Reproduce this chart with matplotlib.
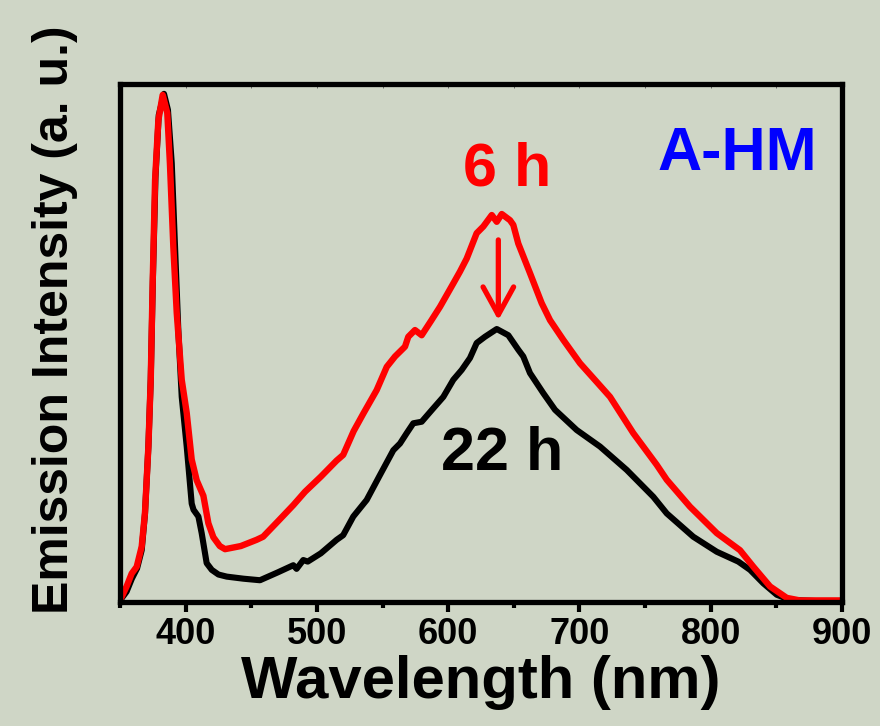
import matplotlib
matplotlib.use('Agg')
import matplotlib.pyplot as plt
import numpy

# Emission spectra (wavelength in nm, intensity in a. u.)
wl_6h = [350, 351.3, 355, 358.9, 362.7, 366.5, 369, 371.6, 373.4, 374.9, 376.7, 379.2, 382.5, 386, 388,
         390.6, 393.2, 397, 400.8, 404.6, 408.4, 413.5, 417.3, 421.1, 426, 430, 442, 454, 459, 470,
         482, 491, 503, 515, 520, 528, 535.4, 545.5, 553.2, 559.5, 567.1, 569.6, 574.7, 579.8, 587,
         593.8, 603.9, 609, 614.1, 621.7, 626.8, 633.2, 637, 640.8, 647.1, 649.6, 653.4, 662.3, 671.2,
         677.6, 687.7, 700.4, 713.1, 723.3, 741, 758.8, 766.5, 784.2, 804.6, 822.3, 832.5, 845.2, 857.9,
         868, 880, 900]
int_6h = [0.005, 0.01, 0.03, 0.055, 0.068, 0.107, 0.172, 0.30, 0.43, 0.62, 0.815, 0.93, 0.979, 0.944, 0.847,
          0.686, 0.558, 0.429, 0.365, 0.275, 0.235, 0.205, 0.152, 0.125, 0.108, 0.102, 0.108, 0.12, 0.126, 0.155,
          0.187, 0.213, 0.242, 0.273, 0.284, 0.33, 0.364, 0.409, 0.454, 0.474, 0.493, 0.512, 0.525, 0.515, 0.543,
          0.57, 0.615, 0.638, 0.663, 0.712, 0.725, 0.747, 0.734, 0.749, 0.737, 0.728, 0.692, 0.635, 0.577,
          0.544, 0.506, 0.461, 0.425, 0.396, 0.326, 0.265, 0.236, 0.184, 0.133, 0.100, 0.068, 0.030, 0.008,
          0.003, 0.003, 0.003]

wl_22h = [350, 355, 359, 363, 366.5, 369, 371.6, 373.4, 375, 377, 379.5, 383.5, 386.5, 389.4, 391.9,
          394.4, 397, 400.8, 404.6, 406, 409.7, 412.2, 416, 419.9, 425, 431.3, 444, 456.6, 470, 482,
          484.5, 489.6, 493, 503, 515, 520, 527.7, 537.9, 548, 558.2, 563.3, 568.4, 573.4, 579.8, 588,
          596.3, 603.9, 610.3, 616.6, 621.7, 628, 637, 645.8, 653.4, 657.2, 662.3, 672.5, 681.4, 697.9,
          715.7, 736, 756.3, 766.5, 786.7, 804.6, 821, 830, 840.1, 850.3, 860.4, 880, 900]
int_22h = [0.003, 0.02, 0.045, 0.065, 0.1, 0.17, 0.30, 0.43, 0.62, 0.82, 0.94, 0.981, 0.95, 0.847, 0.686,
           0.525, 0.396, 0.30, 0.19, 0.178, 0.165, 0.133, 0.075, 0.062, 0.053, 0.049, 0.045, 0.042, 0.057, 0.071,
           0.064, 0.081, 0.078, 0.094, 0.12, 0.129, 0.165, 0.197, 0.245, 0.293, 0.306, 0.326, 0.345, 0.348, 0.372,
           0.396, 0.429, 0.448, 0.471, 0.50, 0.512, 0.527, 0.515, 0.487, 0.474, 0.442, 0.403, 0.371, 0.332,
           0.30, 0.255, 0.203, 0.171, 0.126, 0.097, 0.078, 0.062, 0.036, 0.014, 0.004, 0.002, 0.002]

x_ticks = [400, 500, 600, 700, 800, 900]
x_minor = [350, 450, 550, 650, 750, 850]

bg = '#cfd6c6'
font = ['Liberation Sans', 'DejaVu Sans']

fig = plt.figure(figsize = (8.8, 7.26), dpi = 100, facecolor = bg)
ax = fig.add_axes([0.1364, 0.1708, 0.8204, 0.7135], facecolor = bg)

ax.plot(wl_22h, int_22h, color = 'black', linewidth = 4.4, solid_joinstyle = 'round', solid_capstyle = 'round')
ax.plot(wl_6h, int_6h, color = 'red', linewidth = 4.6, solid_joinstyle = 'round', solid_capstyle = 'round')

ax.set_xlim(350, 900)
ax.set_ylim(0, 1.0)

for s in ax.spines.values():
    s.set_linewidth(3.8)

ax.set_xticks(x_ticks)
ax.set_xticks(x_minor, minor = True)
ax.set_yticks([])
ax.tick_params(axis = 'x', which = 'major', direction = 'out', length = 7, width = 3, pad = 4)
ax.tick_params(axis = 'x', which = 'minor', direction = 'out', length = 4, width = 3)
ax.set_xticklabels([str(t) for t in x_ticks], family = font, fontweight = 'bold', fontsize = 26)

# thin inward ticks on the top edge
top = ax.secondary_xaxis('top')
top.set_xticks(x_ticks + x_minor)
top.tick_params(direction = 'in', length = 3, width = 0.6, colors = '#555555', labeltop = False)
top.spines['top'].set_visible(False)

ax.set_xlabel('Wavelength (nm)', family = font, fontweight = 'bold', fontsize = 43, labelpad = 2)
ax.set_ylabel('Emission Intensity (a. u.)', family = font, fontweight = 'bold', fontsize = 36)
ax.yaxis.set_label_coords(-0.058, 0.545)

ax.text(644.8, 0.805, '6 h', color = 'red', family = font, fontweight = 'bold', fontsize = 44,
        ha = 'center', va = 'baseline')
ax.text(641, 0.255, '22 h', color = 'black', family = font, fontweight = 'bold', fontsize = 44,
        ha = 'center', va = 'baseline')
ax.text(820, 0.834, 'A-HM', color = 'blue', family = font, fontweight = 'bold', fontsize = 44,
        ha = 'center', va = 'baseline')

ax.annotate('', xy = (638.2, 0.544), xytext = (638.2, 0.699),
            arrowprops = dict(arrowstyle = '->, head_length = 1.0, head_width = 0.55', color = 'red',
                              linewidth = 3.8, shrinkA = 0, shrinkB = 0, mutation_scale = 20))

plt.savefig('out.png', dpi = 100, facecolor = bg)
